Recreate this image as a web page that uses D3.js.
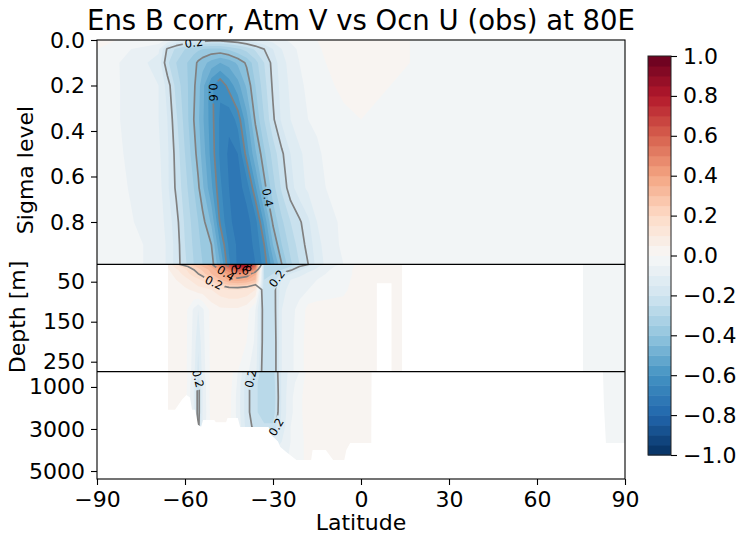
<!DOCTYPE html>
<html>
<head>
<meta charset="utf-8">
<script src="https://cdn.jsdelivr.net/npm/d3@7"></script>
<style>
  body { margin: 0; background: #fff; }
  svg { display: block; }
  text { font-family: "DejaVu Sans", sans-serif; }
</style>
</head>
<body>
<svg id="chart" width="741" height="540"></svg>
<script>
// ---- data -------------------------------------------------------------
// latitude columns shared by every panel
const latitudes = [-90, -69, -66, -63, -60, -57, -55.5, -54, -51, -48, -45, -42, -39, -36,
                   -33, -30, -27, -24, -21, -18, -15, -12, -6, 0, 10, 30, 60, 90];

// atmosphere: sigma levels and correlation rows
const sigmaLevels = [0.0, 0.04, 0.1, 0.2, 0.35, 0.5, 0.65, 0.8, 0.9, 0.985];
const sigmaCorr = [
  [0.01, -0.02, -0.06, -0.10, -0.13, -0.15, -0.16, -0.17, -0.18, -0.18, -0.17, -0.16, -0.14, -0.12, -0.10, -0.08, -0.06, -0.04, -0.02, -0.01, 0.00, 0.01, 0.02, 0.02, 0.01, -0.02, -0.03, -0.03],
  [0.00, -0.09, -0.21, -0.26, -0.30, -0.33, -0.34, -0.35, -0.36, -0.36, -0.34, -0.31, -0.28, -0.24, -0.20, -0.15, -0.10, -0.07, -0.04, -0.02, -0.01, 0.01, 0.02, 0.03, 0.01, -0.02, -0.03, -0.03],
  [-0.01, -0.12, -0.24, -0.30, -0.34, -0.38, -0.41, -0.43, -0.47, -0.50, -0.48, -0.44, -0.39, -0.32, -0.25, -0.18, -0.12, -0.08, -0.05, -0.03, -0.02, 0.00, 0.02, 0.03, 0.01, -0.02, -0.03, -0.03],
  [-0.02, -0.10, -0.17, -0.27, -0.33, -0.39, -0.43, -0.48, -0.59, -0.64, -0.58, -0.52, -0.44, -0.35, -0.27, -0.19, -0.13, -0.09, -0.06, -0.04, -0.03, -0.01, 0.01, 0.02, 0.00, -0.02, -0.03, -0.03],
  [-0.02, -0.10, -0.15, -0.24, -0.32, -0.40, -0.44, -0.49, -0.58, -0.66, -0.69, -0.63, -0.52, -0.39, -0.30, -0.21, -0.14, -0.10, -0.07, -0.05, -0.04, -0.03, -0.01, 0.00, -0.01, -0.02, -0.03, -0.03],
  [-0.02, -0.09, -0.14, -0.22, -0.30, -0.38, -0.42, -0.47, -0.57, -0.66, -0.71, -0.70, -0.58, -0.46, -0.36, -0.28, -0.21, -0.15, -0.11, -0.08, -0.06, -0.04, -0.02, -0.01, -0.01, -0.02, -0.03, -0.03],
  [-0.02, -0.08, -0.14, -0.21, -0.28, -0.35, -0.39, -0.44, -0.54, -0.64, -0.70, -0.72, -0.68, -0.56, -0.42, -0.32, -0.24, -0.17, -0.12, -0.09, -0.07, -0.05, -0.03, -0.01, -0.01, -0.02, -0.03, -0.03],
  [-0.02, -0.07, -0.12, -0.18, -0.26, -0.32, -0.35, -0.38, -0.46, -0.61, -0.69, -0.72, -0.72, -0.67, -0.54, -0.39, -0.31, -0.25, -0.21, -0.16, -0.10, -0.07, -0.04, -0.02, -0.01, -0.02, -0.03, -0.03],
  [-0.02, -0.06, -0.11, -0.17, -0.25, -0.31, -0.34, -0.36, -0.40, -0.55, -0.66, -0.71, -0.72, -0.69, -0.60, -0.45, -0.35, -0.28, -0.23, -0.18, -0.12, -0.08, -0.04, -0.02, -0.01, -0.02, -0.03, -0.03],
  [-0.02, -0.06, -0.11, -0.17, -0.24, -0.30, -0.33, -0.35, -0.37, -0.50, -0.64, -0.71, -0.72, -0.70, -0.63, -0.52, -0.40, -0.31, -0.25, -0.20, -0.13, -0.09, -0.05, -0.02, -0.01, -0.02, -0.03, -0.03]
];

// upper ocean: depths (m) and correlation rows
const upperDepths = [6, 12, 20, 30, 45, 70, 120, 200, 275];
const upperCorr = [
  [0.00, 0.02, 0.06, 0.18, 0.24, 0.28, 0.31, 0.34, 0.39, 0.52, 0.67, 0.82, 0.86, 0.62, -0.30, -0.30, -0.30, -0.28, -0.25, -0.21, -0.15, -0.10, -0.04, 0.02, 0.02, 0.00, -0.02, -0.03],
  [0.00, 0.02, 0.05, 0.12, 0.18, 0.24, 0.27, 0.30, 0.36, 0.46, 0.60, 0.76, 0.80, 0.55, -0.28, -0.28, -0.28, -0.25, -0.20, -0.15, -0.11, -0.07, -0.03, 0.02, 0.02, 0.00, -0.02, -0.03],
  [0.00, 0.02, 0.04, 0.09, 0.14, 0.20, 0.23, 0.26, 0.32, 0.40, 0.50, 0.62, 0.64, 0.45, -0.27, -0.27, -0.25, -0.21, -0.16, -0.12, -0.09, -0.06, -0.02, 0.02, 0.01, 0.00, -0.02, -0.03],
  [0.00, 0.02, 0.03, 0.07, 0.12, 0.18, 0.20, 0.23, 0.30, 0.35, 0.42, 0.46, 0.44, 0.36, -0.26, -0.25, -0.19, -0.15, -0.12, -0.09, -0.07, -0.05, -0.02, 0.02, 0.01, 0.00, -0.02, -0.03],
  [0.00, 0.02, 0.03, 0.05, 0.08, 0.12, 0.14, 0.16, 0.22, 0.30, 0.36, 0.38, 0.36, 0.30, -0.25, -0.23, -0.14, -0.10, -0.08, -0.06, -0.05, -0.04, -0.02, 0.03, 0.01, 0.00, -0.02, -0.03],
  [0.00, 0.02, 0.02, 0.03, 0.04, 0.06, 0.08, 0.08, 0.10, 0.13, 0.15, 0.15, 0.14, 0.10, -0.24, -0.23, -0.12, -0.08, -0.06, -0.05, -0.04, -0.03, -0.01, 0.03, 0.01, 0.00, -0.02, -0.03],
  [0.00, 0.01, 0.02, 0.03, 0.02, -0.06, -0.10, -0.06, 0.02, 0.04, 0.04, 0.04, 0.02, -0.05, -0.24, -0.24, -0.10, -0.06, -0.04, 0.02, 0.03, 0.03, 0.02, 0.03, 0.01, 0.00, -0.02, -0.03],
  [0.00, 0.01, 0.02, 0.03, 0.02, -0.07, -0.14, -0.07, 0.02, 0.03, 0.03, 0.03, 0.00, -0.06, -0.24, -0.25, -0.10, -0.06, -0.03, 0.03, 0.03, 0.03, 0.02, 0.03, 0.01, 0.00, -0.02, -0.03],
  [0.00, 0.01, 0.02, 0.03, 0.02, -0.08, -0.17, -0.08, 0.02, 0.03, 0.03, 0.00, -0.04, -0.08, -0.25, -0.25, -0.10, -0.06, -0.03, 0.03, 0.03, 0.03, 0.02, 0.02, 0.01, 0.00, -0.02, -0.03]
];

// deep ocean: depths (m) and correlation rows
const deepDepths = [275, 800, 1500, 2200, 2900, 3600, 4500, 5380];
const deepCorr = [
  [0.00, 0.02, 0.03, 0.04, 0.03, -0.07, -0.15, -0.07, 0.02, 0.04, 0.04, -0.05, -0.15, -0.23, -0.27, -0.27, -0.14, -0.08, -0.05, 0.02, 0.04, 0.03, 0.02, 0.01, 0.00, 0.00, -0.02, -0.02],
  [0.00, 0.02, 0.03, 0.05, 0.03, -0.10, -0.23, -0.10, 0.03, 0.05, 0.03, -0.06, -0.18, -0.24, -0.28, -0.28, -0.14, -0.07, -0.03, 0.03, 0.05, 0.04, 0.02, 0.01, 0.00, 0.00, -0.02, -0.02],
  [0.00, 0.02, 0.03, 0.04, 0.02, -0.10, -0.23, -0.10, 0.03, 0.05, 0.02, -0.07, -0.18, -0.24, -0.28, -0.29, -0.14, -0.06, -0.02, 0.04, 0.05, 0.03, 0.02, 0.01, 0.00, 0.00, -0.02, -0.02],
  [0.00, 0.02, 0.02, 0.03, 0.02, -0.10, -0.23, -0.10, 0.02, 0.04, 0.02, -0.07, -0.18, -0.24, -0.28, -0.28, -0.14, -0.06, -0.02, 0.04, 0.04, 0.03, 0.02, 0.01, 0.00, 0.00, -0.02, -0.02],
  [0.00, 0.01, 0.02, 0.02, 0.01, -0.09, -0.22, -0.09, 0.02, 0.03, 0.01, -0.06, -0.17, -0.22, -0.24, -0.24, -0.13, -0.05, -0.02, 0.03, 0.03, 0.03, 0.02, 0.01, 0.00, 0.00, -0.02, -0.02],
  [0.00, 0.01, 0.01, 0.01, 0.00, -0.05, -0.08, -0.05, 0.01, 0.02, 0.00, -0.04, -0.10, -0.12, -0.13, -0.13, -0.10, -0.05, -0.02, 0.02, 0.03, 0.02, 0.02, 0.01, 0.00, 0.00, -0.02, -0.02],
  [0.00, 0.01, 0.01, 0.01, 0.00, -0.03, -0.05, -0.03, 0.00, 0.01, 0.00, -0.02, -0.06, -0.08, -0.08, -0.08, -0.07, -0.04, -0.02, 0.02, 0.03, 0.02, 0.02, 0.01, 0.00, 0.00, -0.02, -0.02],
  [0.00, 0.01, 0.01, 0.01, 0.00, -0.02, -0.03, -0.02, 0.00, 0.01, 0.00, -0.01, -0.04, -0.05, -0.05, -0.05, -0.05, -0.03, -0.02, 0.02, 0.03, 0.02, 0.02, 0.01, 0.00, 0.00, -0.02, -0.02]
];

// ocean floor along 80E (0 = land)
const seafloorLat   = [-90, -65.8, -65.8, -63.4, -61, -59.5, -58.3, -57.6, -56.5, -55.6, -54.5, -53.8, -50, -49.5, -46, -45.5, -42, -41.2, -31.5, -30.5, -28.3, -27.5, -25.5, -22, -17, -16.5, -12, -9.5, -5.7, -5, -3.7, 3.5, 3.6, 5.4, 5.4, 10.4, 10.4, 14, 14, 75.7, 75.7, 82.5, 82.8, 83.5, 90];
const seafloorDepth = [0, 0, 2090, 2090, 1600, 1380, 1500, 2090, 2090, 2800, 2900, 2570, 2570, 2680, 2680, 2480, 2480, 2910, 2910, 3300, 3600, 3860, 4100, 4480, 4480, 4000, 4000, 4480, 4480, 4000, 3670, 3670, 275, 275, 54, 54, 275, 275, 0, 0, 275, 275, 1800, 3670, 3670];

// ticks and contour levels
const latTicks = [-90, -60, -30, 0, 30, 60, 90];
const sigmaTicks = [0.0, 0.2, 0.4, 0.6, 0.8];
const upperTicks = [50, 150, 250];
const deepTicks = [1000, 3000, 5000];
const colorbarTicks = [-1.0, -0.8, -0.6, -0.4, -0.2, 0.0, 0.2, 0.4, 0.6, 0.8, 1.0];
const lineLevels = [0.2, 0.4, 0.6, 0.8];

// where the inline contour labels sit (level, latitude, vertical coordinate)
const labelSpots = [
  { panel: "sigma", level: 0.2, lat: -57,   at: 0.012 },
  { panel: "sigma", level: 0.6, lat: -50.5, at: 0.23 },
  { panel: "sigma", level: 0.4, lat: -30.7, at: 0.69 },
  { panel: "upper", level: 0.8, lat: -40,   at: 9 },
  { panel: "upper", level: 0.6, lat: -41.3, at: 21 },
  { panel: "upper", level: 0.4, lat: -46.7, at: 36 },
  { panel: "upper", level: 0.2, lat: -50.5, at: 58 },
  { panel: "upper", level: 0.2, lat: -27.6, at: 48 },
  { panel: "deep",  level: 0.2, lat: -55.6, at: 560 },
  { panel: "deep",  level: 0.2, lat: -37.8, at: 600 },
  { panel: "deep",  level: 0.2, lat: -28.3, at: 2960 }
];

// ---- colour map (RdBu reversed) --------------------------------------
const rdbu = ["#053061", "#2166ac", "#4393c3", "#92c5de", "#d1e5f0", "#f7f7f7",
              "#fddbc7", "#f4a582", "#d6604d", "#b2182b", "#67001f"];
const cmap = d3.scaleLinear()
  .domain(d3.range(11).map(i => -1 + i * 0.2))
  .range(rdbu).interpolate(d3.interpolateRgb).clamp(true);
const step = 0.05;
const fillEdges = d3.range(-20, 21).map(i => i / 20);

// ---- layout -----------------------------------------------------------
const FONT = 22;
const svg = d3.select("#chart");
const defs = svg.append("defs");
const x = d3.scaleLinear([-90, 90], [97, 625]);

const panels = [
  { key: "sigma", levels: sigmaLevels, corr: sigmaCorr, y: d3.scaleLinear([0, 0.986], [40, 264.3]),
    ticks: sigmaTicks, fmt: d3.format(".1f"), floor: false },
  { key: "upper", levels: upperDepths, corr: upperCorr, y: d3.scaleLinear([6.5, 275], [264.3, 371.7]),
    ticks: upperTicks, fmt: d3.format("d"), floor: true },
  { key: "deep", levels: deepDepths, corr: deepCorr, y: d3.scaleLinear([275, 5380], [371.7, 479]),
    ticks: deepTicks, fmt: d3.format("d"), floor: true }
];

function nearestOnSegments(segs, P) {
  let best = null, bd = Infinity;
  for (const [A, B] of segs) {
    const dx = B[0] - A[0], dy = B[1] - A[1], L2 = dx * dx + dy * dy;
    let t = L2 ? ((P[0] - A[0]) * dx + (P[1] - A[1]) * dy) / L2 : 0;
    t = Math.max(0, Math.min(1, t));
    const Q = [A[0] + t * dx, A[1] + t * dy];
    const d = (Q[0] - P[0]) ** 2 + (Q[1] - P[1]) ** 2;
    if (d < bd) { bd = d; best = { Q, dx, dy }; }
  }
  return best;
}

const labelFont = 11.5;
const labelFmt = d3.format(".1f");

panels.forEach(p => {
  const [y0, y1] = p.y.range();
  const clipId = "clip-" + p.key, maskId = "gap-" + p.key;
  defs.append("clipPath").attr("id", clipId)
    .append("rect").attr("x", x(-90)).attr("y", y0).attr("width", x(90) - x(-90)).attr("height", y1 - y0);

  const g = svg.append("g").attr("clip-path", `url(#${clipId})`);
  const n = latitudes.length, m = p.levels.length;
  const flat = p.corr.flat();
  const colIdx = d3.scaleLinear(d3.range(n), latitudes);
  const rowIdx = d3.scaleLinear(d3.range(m), p.levels);
  const px = c => x(colIdx(Math.max(0, Math.min(n - 1, c - 0.5))));
  const py = r => p.y(rowIdx(Math.max(0, Math.min(m - 1, r - 0.5))));
  const path = d3.geoPath(d3.geoTransform({ point(a, b) { this.stream.point(px(a), py(b)); } }));

  // filled bands
  const bands = d3.contours().size([n, m]).thresholds(fillEdges.slice(0, -1))(flat);
  g.append("g").selectAll("path").data(bands).join("path")
    .attr("d", path)
    .attr("fill", d => cmap(d.value + step / 2));

  // contour lines of |r|, dropping the pieces that run along the grid edge
  const lineSets = d3.contours().size([n, m]).thresholds(lineLevels)(flat.map(Math.abs));
  const segsByLevel = new Map();
  const lineG = g.append("g").attr("mask", `url(#${maskId})`);
  lineSets.forEach(ls => {
    const segs = [];
    let d = "";
    ls.coordinates.forEach(poly => poly.forEach(ring => {
      let open = false;
      for (let i = 0; i < ring.length - 1; i++) {
        const a = ring[i], b = ring[i + 1];
        const onEdge = (a[0] <= 0.5 && b[0] <= 0.5) || (a[0] >= n - 0.5 && b[0] >= n - 0.5) ||
                       (a[1] <= 0.5 && b[1] <= 0.5) || (a[1] >= m - 0.5 && b[1] >= m - 0.5);
        if (onEdge) { open = false; continue; }
        const A = [px(a[0]), py(a[1])], B = [px(b[0]), py(b[1])];
        if (!open) { d += `M${A[0].toFixed(2)},${A[1].toFixed(2)}`; open = true; }
        d += `L${B[0].toFixed(2)},${B[1].toFixed(2)}`;
        segs.push([A, B]);
      }
    }));
    segsByLevel.set(ls.value, segs);
    lineG.append("path").attr("d", d).attr("fill", "none")
      .attr("stroke", "#808080").attr("stroke-width", 1.7).attr("stroke-linejoin", "round");
  });

  // no-data area below the sea floor
  if (p.floor) {
    const pts = seafloorLat.map((lat, i) => [x(lat), p.y(seafloorDepth[i])]);
    pts.push([x(90), 700], [x(-90), 700]);
    g.append("path").attr("d", d3.line()(pts) + "Z").attr("fill", "#fff");
  }

  // inline labels and the gaps they cut into the lines
  const mask = defs.append("mask").attr("id", maskId).attr("maskUnits", "userSpaceOnUse")
    .attr("x", 0).attr("y", 0).attr("width", 741).attr("height", 540);
  mask.append("rect").attr("width", 741).attr("height", 540).attr("fill", "#fff");
  labelSpots.filter(s => s.panel === p.key).forEach(s => {
    const segs = segsByLevel.get(s.level) || [];
    const hit = nearestOnSegments(segs, [x(s.lat), p.y(s.at)]);
    if (!hit) return;
    let ang = Math.atan2(hit.dy, hit.dx) * 180 / Math.PI;
    if (ang > 90) ang -= 180;
    if (ang < -90) ang += 180;
    const tr = `translate(${hit.Q[0]},${hit.Q[1]}) rotate(${ang})`;
    const w = labelFont * 1.59 + 4;
    mask.append("rect").attr("transform", tr)
      .attr("x", -w / 2).attr("y", -labelFont * 0.42).attr("width", w).attr("height", labelFont * 0.84)
      .attr("fill", "#000");
    g.append("text").attr("transform", tr)
      .attr("text-anchor", "middle").attr("dy", "0.36em")
      .attr("font-size", labelFont).attr("fill", "#000")
      .text(labelFmt(s.level));
  });

  // y axis of this panel
  const ax = svg.append("g").attr("transform", `translate(${x(-90)},0)`)
    .call(d3.axisLeft(p.y).tickValues(p.ticks).tickFormat(p.fmt).tickSize(6).tickPadding(6).tickSizeOuter(0));
  ax.select(".domain").remove();
  ax.selectAll("text").attr("font-size", FONT).attr("font-family", "DejaVu Sans").attr("fill", "#000");
  ax.selectAll("line").attr("stroke", "#000").attr("stroke-width", 1.1);
});

// frame and panel separators
svg.append("rect").attr("x", x(-90)).attr("y", 40).attr("width", x(90) - x(-90)).attr("height", 439)
  .attr("fill", "none").attr("stroke", "#000").attr("stroke-width", 1.1);
[panels[0].y.range()[1], panels[1].y.range()[1]].forEach(yy => {
  svg.append("line").attr("x1", x(-90)).attr("x2", x(90)).attr("y1", yy).attr("y2", yy)
    .attr("stroke", "#000").attr("stroke-width", 1.3);
});

// x axis
const xa = svg.append("g").attr("transform", "translate(0,479)")
  .call(d3.axisBottom(x).tickValues(latTicks).tickFormat(d3.format("d")).tickSize(6).tickPadding(6).tickSizeOuter(0));
xa.select(".domain").remove();
xa.selectAll("text").attr("font-size", FONT).attr("font-family", "DejaVu Sans").attr("fill", "#000");
xa.selectAll("line").attr("stroke", "#000").attr("stroke-width", 1.1);

// axis titles and chart title
svg.append("text").attr("x", x(0)).attr("y", 530).attr("text-anchor", "middle")
  .attr("font-size", FONT).text("Latitude");
svg.append("text").attr("transform", "translate(33,170) rotate(-90)").attr("text-anchor", "middle")
  .attr("font-size", FONT).text("Sigma level");
svg.append("text").attr("transform", "translate(25,317) rotate(-90)").attr("text-anchor", "middle")
  .attr("font-size", FONT).text("Depth [m]");
svg.append("text").attr("x", x(0)).attr("y", 30).attr("text-anchor", "middle")
  .attr("font-size", 27.5).text("Ens B corr, Atm V vs Ocn U (obs) at 80E");

// colour bar
const cb = { x: 648, w: 23 };
const cy = d3.scaleLinear([-1, 1], [455, 56]);
svg.append("g").selectAll("rect").data(fillEdges.slice(0, -1)).join("rect")
  .attr("x", cb.x).attr("width", cb.w)
  .attr("y", d => cy(d + step)).attr("height", d => cy(d) - cy(d + step) + 0.5)
  .attr("fill", d => cmap(d + step / 2));
svg.append("rect").attr("x", cb.x).attr("y", cy(1)).attr("width", cb.w).attr("height", cy(-1) - cy(1))
  .attr("fill", "none").attr("stroke", "#222").attr("stroke-width", 1);
const ca = svg.append("g").attr("transform", `translate(${cb.x + cb.w},0)`)
  .call(d3.axisRight(cy).tickValues(colorbarTicks).tickFormat(d3.format(".1f")).tickSize(6).tickPadding(6).tickSizeOuter(0));
ca.select(".domain").remove();
ca.selectAll("text").attr("font-size", FONT).attr("font-family", "DejaVu Sans").attr("fill", "#000");
ca.selectAll("line").attr("stroke", "#000").attr("stroke-width", 1.1);
</script>
</body>
</html>
